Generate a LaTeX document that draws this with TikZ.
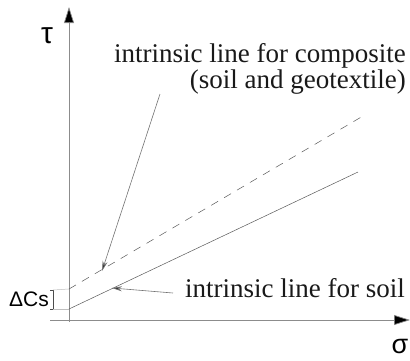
\documentclass[tikz,border=0pt]{standalone}
\usepackage{fontspec}
\setmainfont{Liberation Serif}
\newfontfamily\arialfont{Liberation Sans}
\usetikzlibrary{arrows.meta}
\begin{document}
\begin{tikzpicture}[x=1pt,y=-1pt,
  axis/.style={draw=black!45,line width=0.7pt},
  axhead/.style={-{Triangle[length=16pt,width=10pt,fill=black]}},
  envline/.style={draw=black!65,line width=0.5pt},
  pointer/.style={draw=black!55,line width=0.6pt,-{Stealth[length=10pt,width=5pt,fill=black!80]}},
  lbl/.style={inner sep=0pt,text=black!90,font=\fontsize{27}{30}\selectfont},
  sym/.style={inner sep=0pt,font=\arialfont\fontsize{30}{32}\selectfont}]
\useasboundingbox (0,0) rectangle (410,360);
% axes
\coordinate (o) at (69,320);
\coordinate (ybot) at (69,322);
\coordinate (ytop) at (69,7);
\coordinate (xl) at (50,320);
\coordinate (xr) at (410,320);
\draw[axis,axhead] (ybot) -- (ytop);
\draw[axis,axhead] (xl) -- (xr);
\node[sym] (tau) at (47,36) {τ};
\node[sym,font=\arialfont\fontsize{27}{30}\selectfont] (sigma) at (400,346) {σ};
% lines
\coordinate (s0) at (69,309);
\coordinate (s1) at (358,172);
\coordinate (c0) at (69,289);
\coordinate (c1) at (363,116);
\draw[envline] (s0) -- (s1);
\draw[envline,dash pattern=on 8pt off 7pt] (c0) -- (c1);
% delta c bracket
\coordinate (b0) at (53,290);
\coordinate (b1) at (53,309);
\draw[black!70,line width=0.5pt] (50,290) -- (b0) -- (b1) -- (50,309);
\draw[black!25,line width=0.5pt] (b0) -- (c0);
\draw[black!25,line width=0.5pt] (b1) -- (s0);
\node[inner sep=0pt,font=\arialfont\fontsize{21}{23}\selectfont,anchor=east] (dc) at (49,299) {ΔCs};
% labels
\node[lbl,anchor=base east] (comp1) at (406,62) {intrinsic line for composite};
\node[lbl,anchor=base east] (comp2) at (406,88) {(soil and geotextile)};
\node[lbl,anchor=base west] (soil) at (185,297) {intrinsic line for soil};
% pointers
\coordinate (p1s) at (160,94);
\coordinate (p1e) at (102,271);
\coordinate (p2s) at (173,293);
\coordinate (p2e) at (112,288);
\draw[pointer] (p1s) -- (p1e);
\draw[pointer] (p2s) -- (p2e);
\end{tikzpicture}
\end{document}
